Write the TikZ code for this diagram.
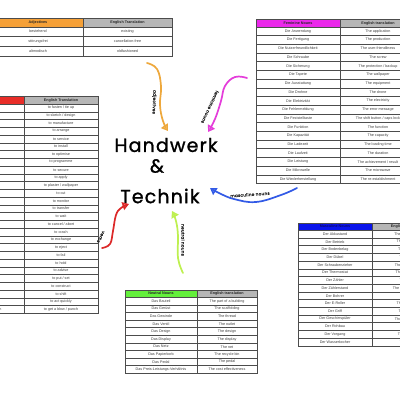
\documentclass[tikz,border=0pt]{standalone}
\usepackage{fontspec}
\setmainfont{Liberation Sans}
\newfontfamily\hand[LetterSpace=6,FakeBold=1.2]{Poppins}
\usetikzlibrary{arrows.meta}
\definecolor{hdrgray}{RGB}{182,182,182}
\definecolor{hdrorange}{RGB}{245,160,55}
\definecolor{hdrmagenta}{RGB}{235,40,235}
\definecolor{hdrred}{RGB}{232,45,40}
\definecolor{hdrblue}{RGB}{10,20,235}
\definecolor{hdrgreen}{RGB}{100,240,60}
\definecolor{navytxt}{RGB}{10,10,110}
\definecolor{arrorange}{RGB}{238,168,60}
\definecolor{arrmagenta}{RGB}{228,60,218}
\definecolor{arrblue}{RGB}{50,90,230}
\definecolor{arrgreen}{RGB}{190,240,80}
\definecolor{arrred}{RGB}{220,40,40}
\tikzset{
  gridl/.style={draw=black!70, line width=0.45pt},
  cell/.style={font=\fontsize{3.7}{4}\selectfont, text=black!75, inner sep=0pt},
  hcell/.style={font=\bfseries\fontsize{3.7}{4}\selectfont, text=black!85, inner sep=0pt},
  marker/.style={line width=1.7pt, line cap=round, line join=round,
    -{Triangle[open, length=6.5pt, width=8pt, line width=1.5pt]}},
  title/.style={font=\hand\fontsize{19}{20}\selectfont, inner sep=0pt},
  lbl/.style={font=\hand\fontsize{4.2}{5}\selectfont, inner sep=0pt, text=black!85}
}
\newcommand\tabrows[6]{%
  \foreach \g/\e [count=\i] in {#6}{%
    \pgfmathsetmacro\ya{#4+(\i-1)*#5}%
    \pgfmathsetmacro\yb{#4+\i*#5}%
    \pgfmathsetmacro\yc{#4+(\i-0.5)*#5}%
    \draw[gridl] (#1,\ya) rectangle (#3,\yb);
    \draw[gridl] (#2,\ya) -- (#2,\yb);
    \node[cell] at ({(#1+#2)/2},\yc) {\g};
    \node[cell] at ({(#2+#3)/2},\yc) {\e};
  }}
\newcommand\tabhead[8]{%
  \fill[#6] (#1,#4) rectangle (#2,#4+#5);
  \fill[hdrgray] (#2,#4) rectangle (#3,#4+#5);
  \draw[gridl] (#1,#4) rectangle (#3,#4+#5);
  \draw[gridl] (#2,#4) -- (#2,#4+#5);
  \node[hcell] at ({(#1+#2)/2},{#4+#5/2}) {#7};
  \node[hcell] at ({(#2+#3)/2},{#4+#5/2}) {#8};
}
\begin{document}
\begin{tikzpicture}[x=1pt,y=-1pt]
\useasboundingbox (0,0) rectangle (400,400);
\fill[white] (0,0) rectangle (400,400);
\clip (0,0) rectangle (400,400);

% Adjectives
\tabhead{-7}{83}{172}{18.3}{8.5}{hdrorange}{Adjectives}{English Translation}
\tabrows{-7}{83}{172}{26.8}{9.7}{{bestehend}/{existing},{störungsfrei}/{cancellation-free},{altmodisch}/{oldfashioned}}

% Feminine nouns
\tabhead{256}{340}{416}{19.3}{7.6}{hdrmagenta}{Feminine Nouns}{English translation}
\tabrows{256}{340}{416}{26.9}{8.7}{{Die Anwendung}/{The application},{Die Fertigung}/{The production},{Die Nutzerfreundlichkeit}/{The user-friendliness},{Die Schraube}/{The screw},{Die Sicherung}/{The protection / backup},{Die Tapete}/{The wallpaper},{Die Ausstattung}/{The equipment},{Die Drohne}/{The drone},{Die Elektrizität}/{The electricity},{Die Fehlermeldung}/{The error message},{Die Feststelltaste}/{The shift button / caps lock},{Die Funktion}/{The function},{Die Kapazität}/{The capacity},{Die Ladezeit}/{The loading time},{Die Laufzeit}/{The duration},{Die Leistung}/{The achievement / result},{Die Mikrowelle}/{The microwave},{Die Wiederherstellung}/{The re-establishment}}

% Verbs
\tabhead{-62}{24}{98}{96.7}{7.3}{hdrred}{Verben}{English Translation}
\tabrows{-62}{24}{98}{104}{7.75}{{befestigen}/{to fasten / tie up},{entwerfen}/{to sketch / design},{herstellen}/{to manufacture},{anordnen}/{to arrange},{warten}/{to service},{installieren}/{to install},{optimieren}/{to optimise},{programmieren}/{to programme},{sichern}/{to secure},{anwenden}/{to apply},{tapezieren}/{to plaster / wallpaper},{schneiden}/{to cut},{überwachen}/{to monitor},{übertragen}/{to transfer},{abwarten}/{to wait},{abbrechen}/{to cancel / abort},{abstürzen}/{to crash},{austauschen}/{to exchange},{auswerfen}/{to eject},{ausfallen}/{to fail},{halten}/{to hold},{beraten}/{to advise},{setzen, legen}/{to put / set},{bauen}/{to construct},{verschieben}/{to shift},{schnell handeln}/{to act quickly},{einen Schlag bekommen}/{to get a blow / punch}}

% Masculine nouns
\tabhead{298}{372}{444}{223}{7.3}{hdrblue}{\textcolor{navytxt}{Masculine Nouns}}{English Translation}
\tabrows{298}{372}{444}{230.3}{7.7}{{Der Akkustand}/{The battery level},{Der Betrieb}/{The operation},{Der Bodenbelag}/{The flooring},{Der Dübel}/{The dowel},{Der Schraubenzieher}/{The screwdriver},{Der Thermostat}/{The thermostat},{Der Zähler}/{The meter},{Der Zählerstand}/{The meter reading},{Der Bohrer}/{The drill},{Der E-Roller}/{The e-scooter},{Der Griff}/{The handle},{Der Geschirrspüler}/{The dishwasher},{Der Rohbau}/{The shell},{Der Vorgang}/{The process},{Der Wasserkocher}/{The kettle}}

% Neutral nouns
\tabhead{125}{197}{257}{290}{7.3}{hdrgreen}{Neutral Nouns}{English translation}
\tabrows{125}{197}{257}{297.3}{7.6}{{Das Bauteil}/{The part of a building},{Das Gerüst}/{The scaffolding},{Das Gewinde}/{The thread},{Das Ventil}/{The outlet},{Das Design}/{The design},{Das Display}/{The display},{Das Netz}/{The net},{Das Papierkorb}/{The recycle bin},{Das Pedal}/{The pedal},{Das Preis-Leistungs-Verhältnis}/{The cost effectiveness}}

% Title
\node[title] (hw) at (166,145) {Handwerk};
\node[title] (amp) at (157,166) {\&};
\node[title] (tk) at (160,196) {Technik};

% Arrows
\coordinate (oS) at (147,63);  \coordinate (oE) at (168,131);
\coordinate (mS) at (247,78);  \coordinate (mE) at (208,132);
\coordinate (bS) at (297,188); \coordinate (bE) at (210,188);
\coordinate (gS) at (183,273); \coordinate (gE) at (172,211);
\coordinate (rS) at (102,248); \coordinate (rE) at (129,204);

\draw[marker, arrorange] plot[smooth, tension=0.7] coordinates {(oS) (157,69) (161,86) (160,105) (163,121) (oE)};
\draw[marker, arrmagenta] plot[smooth, tension=0.7] coordinates {(mS) (235,77) (225,86) (221,101) (215,119) (mE)};
\draw[marker, arrblue] plot[smooth, tension=0.7] coordinates {(bS) (281,195) (256,202) (234,199) (219,193) (bE)};
\draw[marker, arrgreen] plot[smooth, tension=0.7] coordinates {(gS) (178,258) (178,236) (176,221) (gE)};
\draw[marker, arrred] plot[smooth, tension=0.7] coordinates {(rS) (110,244) (113,231) (116,215) (121,208) (rE)};

% Arrow labels
\node[lbl, rotate=-92] (la) at (154,102) {adjectives};
\node[lbl, rotate=-115] (lf) at (210,107) {feminine nouns};
\node[lbl, rotate=4] (lm) at (250,194.5) {masculine nouns};
\node[lbl, rotate=-90] (ln) at (183,240) {neutral nouns};
\node[lbl, rotate=-117] (lv) at (101,237) {verbs};
\end{tikzpicture}
\end{document}
